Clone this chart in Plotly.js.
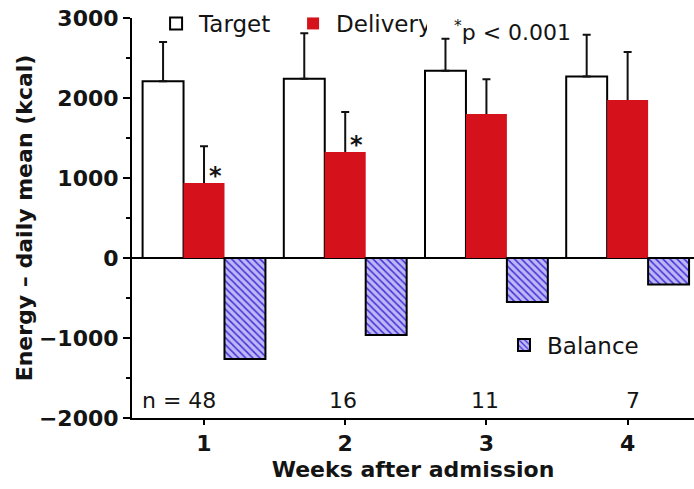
<!DOCTYPE html>
<html>
<head>
<meta charset="utf-8">
<script src="https://cdn.plot.ly/plotly-3.0.1.min.js"></script>
<style>
  html, body { margin: 0; padding: 0; background: #fff; }
  #chart { width: 694px; height: 489px; }
</style>
</head>
<body>
<div id="chart"></div>
<script>
// Weekly energy intake: target vs. delivered, and the resulting balance
const weeks = [1, 2, 3, 4];
const weekLabels = ['1', '2', '3', '4'];
const targetMean = [2210, 2240, 2340, 2270];
const targetSD = [490, 570, 400, 520];
const deliveryMean = [937, 1325, 1800, 1975];
const deliverySD = [460, 500, 435, 600];
const balanceMean = [-1262, -962, -550, -330];
const nLabels = ['n = 48', '16', '11', '7'];
const significant = [true, true, false, false];

const FONT_REG = 'DejaVu Sans, Arial, sans-serif';
const INK = '#141414';
const BAR_W = 0.29;
const zeros = weeks.map(() => 0);
// lower end of the delivery whiskers tucked just inside the red bar
const tuck = weeks.map(() => 25);

const errStyle = { color: '#111', thickness: 2, width: 4 };

const traces = [
  {
    type: 'bar', name: 'Target', x: weeks, y: targetMean,
    width: BAR_W, offset: -1.5 * BAR_W,
    marker: { color: '#ffffff', line: { color: '#000', width: 2 } },
    error_y: Object.assign({ type: 'data', symmetric: false, array: targetSD, arrayminus: zeros }, errStyle),
    legend: 'legend'
  },
  {
    // whiskers for the delivery bars, drawn underneath them
    type: 'bar', name: 'Delivery SD', x: weeks, y: deliveryMean,
    width: BAR_W, offset: -0.5 * BAR_W, showlegend: false,
    marker: { color: 'rgba(0,0,0,0)', line: { width: 0 } },
    error_y: Object.assign({ type: 'data', symmetric: false, array: deliverySD, arrayminus: tuck }, errStyle)
  },
  {
    type: 'bar', name: 'Delivery', x: weeks, y: deliveryMean,
    width: BAR_W, offset: -0.5 * BAR_W,
    marker: { color: '#d5121b', line: { width: 0 } },
    legend: 'legend'
  },
  {
    type: 'bar', name: 'Balance', x: weeks, y: balanceMean,
    width: BAR_W, offset: 0.5 * BAR_W,
    marker: {
      color: '#b4adf3',
      line: { color: '#000', width: 2 },
      pattern: { shape: '\\', fgcolor: '#4634d6', bgcolor: '#bdb7f6', size: 5, solidity: 0.32 }
    },
    legend: 'legend2'
  }
];

const annotations = [];
// group sizes under each week, and significance stars on the delivery bars
weeks.forEach((w, i) => {
  annotations.push({
    x: w + 0.1, y: -1780, xref: 'x', yref: 'y', text: nLabels[i],
    xanchor: 'right', yanchor: 'middle', showarrow: false,
    font: { family: FONT_REG, size: 22, color: INK }
  });
  if (significant[i]) {
    annotations.push({
      x: w + 0.08, y: deliveryMean[i], xref: 'x', yref: 'y', text: '*',
      xanchor: 'center', yanchor: 'bottom', yshift: -9, showarrow: false,
      font: { family: FONT_REG, size: 24, color: INK, weight: 'bold' }
    });
  }
});
annotations.push({
  x: 2.754, y: 2840, xref: 'x', yref: 'y', text: '<sup>*</sup>p < 0.001',
  xanchor: 'left', yanchor: 'middle', showarrow: false,
  font: { family: FONT_REG, size: 22, color: INK }
});

const layout = {
  width: 694, height: 489,
  margin: { l: 132, r: 0, t: 18, b: 71 },
  paper_bgcolor: '#fff', plot_bgcolor: '#fff',
  barmode: 'overlay',
  font: { family: FONT_REG, color: INK },
  xaxis: {
    type: 'linear', range: [0.49, 4.47],
    tickvals: weeks, ticktext: weekLabels,
    showline: true, linecolor: '#000', linewidth: 2,
    ticks: 'outside', ticklen: 5, tickwidth: 2, tickcolor: '#000',
    showgrid: false, zeroline: false,
    tickfont: { family: FONT_REG, size: 22, color: INK, weight: 'bold' },
    title: { text: 'Weeks after admission', standoff: 6,
             font: { family: FONT_REG, size: 22, color: INK, weight: 'bold' } }
  },
  yaxis: {
    range: [-2000, 3000], dtick: 1000, tick0: 0,
    showline: true, linecolor: '#000', linewidth: 2,
    ticks: 'outside', ticklen: 7, tickwidth: 2, tickcolor: '#000',
    minor: { ticks: 'outside', ticklen: 4, dtick: 500, tickwidth: 2, tickcolor: '#000', showgrid: false },
    showgrid: false, zeroline: true, zerolinecolor: '#000', zerolinewidth: 2,
    tickformat: 'd',
    tickfont: { family: FONT_REG, size: 22, color: INK, weight: 'bold' },
    title: { text: 'Energy \u2013 daily mean (kcal)', standoff: 0,
             font: { family: FONT_REG, size: 22, color: INK, weight: 'bold' } }
  },
  showlegend: true,
  legend: {
    orientation: 'h', x: 0.0375, y: 1.04, xanchor: 'left', yanchor: 'top',
    bgcolor: 'rgba(0,0,0,0)', borderwidth: 0, itemwidth: 36,
    entrywidth: 86, entrywidthmode: 'pixels',
    font: { family: FONT_REG, size: 23, color: INK },
    traceorder: 'normal'
  },
  legend2: {
    orientation: 'h', x: 0.6566, y: 0.1825, xanchor: 'left', yanchor: 'middle',
    bgcolor: 'rgba(0,0,0,0)', borderwidth: 0, itemwidth: 36,
    font: { family: FONT_REG, size: 23, color: INK }
  },
  annotations: annotations
};

Plotly.newPlot('chart', traces, layout, { displayModeBar: false, staticPlot: true });
</script>
</body>
</html>
